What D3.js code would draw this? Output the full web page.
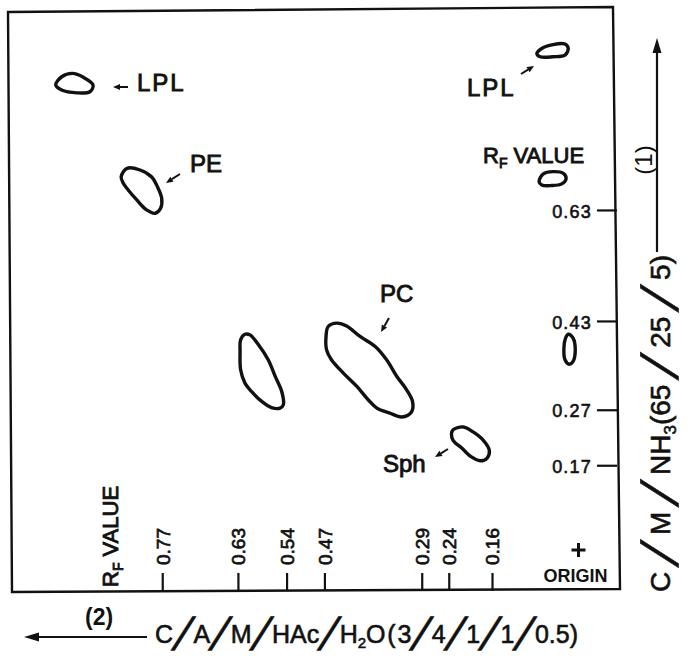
<!DOCTYPE html>
<html>
<head>
<meta charset="utf-8">
<script src="https://cdn.jsdelivr.net/npm/d3@7"></script>
<style>
  body { margin: 0; background: #fff; }
  text { font-family: "Liberation Sans", Arial, sans-serif; fill: #111; }
</style>
</head>
<body>
<svg id="chart" width="689" height="662"></svg>
<script>
// Rf values marked along each development direction
const rfTicksDir2 = [0.77, 0.63, 0.54, 0.47, 0.29, 0.24, 0.16];
const rfTicksDir1 = [0.63, 0.43, 0.27, 0.17];

// Spot outlines, each point is [Rf in direction (2), Rf in direction (1)]
const spotLPLa = [[0.967,0.855],[0.956,0.870],[0.936,0.876],[0.916,0.869],[0.898,0.855],[0.904,0.843],[0.928,0.841],[0.956,0.846]];
const spotPE = [[0.846,0.690],[0.835,0.705],[0.811,0.702],[0.789,0.689],[0.779,0.672],[0.771,0.651],[0.773,0.633],[0.783,0.624],[0.799,0.630],[0.817,0.648],[0.833,0.666],[0.842,0.678]];
const spotLPLb = [[0.077,0.912],[0.068,0.921],[0.047,0.928],[0.025,0.929],[0.019,0.921],[0.025,0.909],[0.047,0.906],[0.071,0.906]];
const spotRef1 = [[0.073,0.681],[0.065,0.695],[0.047,0.699],[0.028,0.696],[0.023,0.686],[0.031,0.677],[0.050,0.674],[0.068,0.675]];
const spotRef2 = [[0.019,0.406],[0.010,0.399],[0.006,0.378],[0.010,0.357],[0.017,0.352],[0.025,0.360],[0.027,0.381],[0.024,0.399]];
const spotMid = [[0.617,0.406],[0.608,0.405],[0.592,0.387],[0.574,0.360],[0.561,0.330],[0.549,0.303],[0.546,0.279],[0.552,0.273],[0.568,0.274],[0.586,0.285],[0.605,0.303],[0.617,0.318],[0.625,0.342],[0.626,0.375],[0.625,0.396]];
const spotPC = [[0.463,0.420],[0.447,0.426],[0.429,0.421],[0.404,0.402],[0.376,0.384],[0.355,0.360],[0.336,0.330],[0.318,0.306],[0.307,0.285],[0.309,0.266],[0.327,0.257],[0.349,0.264],[0.373,0.273],[0.389,0.288],[0.410,0.312],[0.435,0.336],[0.457,0.360],[0.466,0.378],[0.467,0.402]];
const spotSph = [[0.232,0.234],[0.213,0.239],[0.195,0.230],[0.176,0.215],[0.165,0.197],[0.169,0.183],[0.182,0.178],[0.198,0.185],[0.216,0.201],[0.232,0.215],[0.235,0.226]];

const spots = [spotLPLa, spotPE, spotLPLb, spotRef1, spotRef2, spotMid, spotPC, spotSph];

// Spot names
const labelNames = ["LPL", "LPL", "PE", "PC", "Sph"];

// Solvent systems for the two development directions
const solvent1 = ["C", "/", "M", "/", "NH", { s: "3" }, "(65", "/", "25", "/", "5)"];
const solvent2 = ["C", "/", "A", "/", "M", "/", "HAc", "/", "H", { s: "2" }, "O", "(", "3", "/", "4", "/", "1", "/", "1", "/", "0.5)"];

const svg = d3.select("#chart");

// Rf scales: origin at lower right, development (2) runs left, (1) runs up
const x = d3.scaleLinear().domain([0, 1]).range([578.5, 37.9]);
const y = d3.scaleLinear().domain([0, 1]).range([559.6, 4.6]);

const frameBottom = 591, frameRight = 617;

// Plate outline
svg.append("path")
  .attr("d", "M8,12 L613,7 L620,589 L12,592 Z")
  .attr("fill", "none").attr("stroke", "#111").attr("stroke-width", 2.4)
  .attr("stroke-linejoin", "miter");

// Spots
const spotLine = d3.line()
  .x(d => x(d[0])).y(d => y(d[1]))
  .curve(d3.curveCatmullRomClosed.alpha(0.5));

svg.append("g").selectAll("path").data(spots).join("path")
  .attr("d", spotLine)
  .attr("fill", "none").attr("stroke", "#111")
  .attr("stroke-width", 3.4).attr("stroke-linejoin", "round");

// Right axis: Rf in direction (1)
const axR = d3.axisLeft(y).tickValues(rfTicksDir1).tickSize(20).tickPadding(5)
  .tickFormat(d3.format(".2f"));
const gR = svg.append("g").attr("transform", `translate(${frameRight},0)`).call(axR);
gR.select(".domain").remove();
gR.selectAll(".tick line").attr("stroke", "#111").attr("stroke-width", 2.2);
gR.selectAll(".tick text")
  .attr("font-family", "Liberation Sans, Arial, sans-serif")
  .attr("font-size", 18).attr("letter-spacing", 1.2)
  .attr("fill", "#111").attr("stroke", "#111").attr("stroke-width", 0.6)
  .attr("dy", "0.4em");

// Bottom axis: Rf in direction (2)
const axB = d3.axisTop(x).tickValues(rfTicksDir2).tickSize(18)
  .tickFormat(d3.format(".2f"));
const gB = svg.append("g").attr("transform", `translate(0,${frameBottom})`).call(axB);
gB.select(".domain").remove();
gB.selectAll(".tick line").attr("stroke", "#111").attr("stroke-width", 2.2);
gB.selectAll(".tick text")
  .attr("font-family", "Liberation Sans, Arial, sans-serif")
  .attr("font-size", 19).attr("fill", "#111")
  .attr("stroke", "#111").attr("stroke-width", 0.7)
  .attr("transform", "rotate(-90)")
  .attr("x", 26).attr("y", 0).attr("dy", "0.36em")
  .attr("text-anchor", "start");

// Origin marker
const og = svg.append("g");
og.append("path")
  .attr("d", `M${x(0) - 7},550 H${x(0) + 7} M${x(0)},543 V557`)
  .attr("stroke", "#111").attr("stroke-width", 3);
og.append("text").attr("x", x(0) - 3).attr("y", 582)
  .attr("text-anchor", "middle").attr("font-size", 18).attr("font-weight", "bold")
  .text("ORIGIN");

// Straight arrow with a filled head
function arrow(g, x1, y1, x2, y2, headLen, headW, w) {
  const a = Math.atan2(y2 - y1, x2 - x1);
  const bx = x2 - headLen * Math.cos(a), by = y2 - headLen * Math.sin(a);
  g.append("line").attr("x1", x1).attr("y1", y1).attr("x2", bx).attr("y2", by)
    .attr("stroke", "#111").attr("stroke-width", w);
  const px = -Math.sin(a) * headW / 2, py = Math.cos(a) * headW / 2;
  g.append("path")
    .attr("d", `M${x2},${y2} L${bx + px},${by + py} L${bx - px},${by - py} Z`)
    .attr("fill", "#111");
}

// Spot names and pointers
const ann = svg.append("g").attr("font-size", 24)
  .attr("stroke", "#111").attr("stroke-width", 0.9);
const labelPos = [[137, 91, 2], [467, 96, 2], [190, 172, 0], [380, 302, 0], [383, 472, 0]];
labelNames.forEach((t, i) => {
  ann.append("text").attr("x", labelPos[i][0]).attr("y", labelPos[i][1])
    .attr("letter-spacing", labelPos[i][2]).text(t);
});
const pointers = [[128, 87, 113, 87], [521, 74, 534, 66], [180, 174, 166, 183], [389, 318, 381, 332], [448, 449, 435, 457]];
const pg = svg.append("g");
pointers.forEach(p => arrow(pg, p[0], p[1], p[2], p[3], 7, 6, 2));

// "RF VALUE" headings
function rfValue(g) {
  const t = g.append("text").attr("font-size", 22)
    .attr("stroke", "#111").attr("stroke-width", 0.9);
  t.append("tspan").text("R");
  t.append("tspan").attr("font-size", 14).attr("dy", 5).text("F");
  t.append("tspan").attr("dy", -5).text(" VALUE");
  return t;
}
rfValue(svg.append("g").attr("transform", "translate(483,163)"));
rfValue(svg.append("g").attr("transform", "translate(118,587) rotate(-90)"));

// Solvent system lettering: long leaning slashes, subscript digits,
// pieces laid out along a baseline to fill the given length
function solventRow(g, parts, length, fs, slashFs, slashAdv) {
  const skew = 20;
  const lean = Math.tan(skew * Math.PI / 180);
  const items = parts.map(p => {
    const node = g.append("text").attr("stroke", "#111").attr("stroke-width", 0.6);
    if (p === "/") {
      node.attr("font-size", slashFs).attr("text-anchor", "middle").text("/");
      return { node, w: slashAdv, kind: "slash" };
    }
    if (typeof p === "object") {
      node.attr("font-size", fs * 0.6).attr("y", fs * 0.2).text(p.s);
      return { node, w: node.node().getComputedTextLength(), kind: "sub" };
    }
    node.attr("font-size", fs).text(p);
    return { node, w: node.node().getComputedTextLength(), kind: "txt" };
  });
  const isTight = i => items[i].kind === "sub" || (items[i + 1] && items[i + 1].kind === "sub");
  const tightCount = items.filter((it, i) => isTight(i)).length;
  const total = d3.sum(items, d => d.w);
  const gap = (length - total) / (items.length - 1 - tightCount);
  const drop = slashFs * 0.15;            // slash hangs below the baseline
  let cx = 0;
  items.forEach((it, i) => {
    if (it.kind === "slash") {
      // keep the leaning glyph centred on its slot
      const tx = cx + it.w / 2 - lean * 0.36 * slashFs;
      it.node.attr("transform", `translate(${tx},${drop}) skewX(${-skew})`);
    } else {
      it.node.attr("x", cx);
    }
    cx += it.w + (isTight(i) ? 0 : gap);
  });
}

// Direction (1) solvent, along the right side
solventRow(svg.append("g").attr("transform", "translate(670,592) rotate(-90)"), solvent1, 337, 28, 52, 18);
arrow(svg.append("g"), 657, 252, 657, 38, 15, 9, 2.2);
svg.append("text").attr("transform", "translate(652,160) rotate(-90)")
  .attr("text-anchor", "middle").attr("font-size", 24).text("(1)");

// Direction (2) solvent, along the bottom
solventRow(svg.append("g").attr("transform", "translate(155,643)"), solvent2, 423, 25, 46, 17);
arrow(svg.append("g"), 147, 637, 24, 637, 15, 9, 2.2);
svg.append("text").attr("x", 85).attr("y", 625).attr("font-size", 23)
  .attr("font-weight", "bold").text("(2)");
</script>
</body>
</html>
